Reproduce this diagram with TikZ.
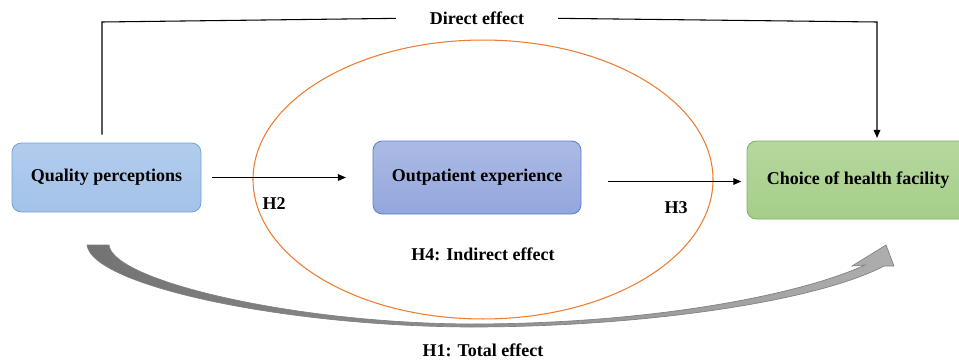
\documentclass[tikz,border=0pt]{standalone}
\usepackage{fontspec}
\setmainfont{Liberation Serif}
\usetikzlibrary{arrows.meta}
\definecolor{qpfill}{HTML}{A9C6EA}
\definecolor{qpedge}{HTML}{6FA3DE}
\definecolor{oefill}{HTML}{9DAEE0}
\definecolor{oeedge}{HTML}{5A7CCB}
\definecolor{chfill}{HTML}{A9D18E}
\definecolor{chedge}{HTML}{7DB35F}
\definecolor{ellorange}{HTML}{ED7D31}
\begin{document}
\begin{tikzpicture}[x=0.75pt,y=-0.75pt,
  box/.style={draw, rounded corners=7pt, line width=0.6pt, align=center,
    font=\bfseries\fontsize{13.5}{16}\selectfont},
  lbl/.style={font=\bfseries\fontsize{13.5}{16}\selectfont},
  link/.style={draw, line width=0.8pt, -{Triangle[length=6pt,width=5pt]}}]
\useasboundingbox (0,0) rectangle (959,360);
% orange ellipse round the mediator
\draw[ellorange, line width=0.8pt] (483,179.5) ellipse [x radius=172.5pt, y radius=104.6pt];
% boxes
\node[box, draw=qpedge, top color=qpfill!90!white, bottom color=qpfill!90!qpedge,
  minimum width=141.75pt, minimum height=51.75pt] (qp) at (106.5,177.5) {Quality perceptions};
\node[box, draw=oeedge, top color=oefill!85!white, bottom color=oefill!85!oeedge,
  minimum width=156pt, minimum height=54.75pt] (oe) at (477,177.5) {Outpatient experience};
\node[box, draw=chedge, top color=chfill!85!white, bottom color=chfill!90!chedge,
  minimum width=166.5pt, minimum height=58.5pt] (ch) at (858,180) {Choice of health facility};
% labels
\node[lbl] (h2) at (274,204) {H2};
\node[lbl] (h3) at (676,208) {H3};
\node[lbl] (h4) at (483,254) {H4: Indirect effect};
\node[lbl] (h1) at (483,350) {H1: Total effect};
\node[lbl] (de) at (477,18) {Direct effect};
\coordinate (dl) at (102,22);
\coordinate (dr) at (877,22);
% mediation paths
\path[link, shorten <=8pt, shorten >=20pt] (qp.east) -- (oe.west);
\path[link, shorten <=20pt, shorten >=4pt] ([yshift=-3pt]oe.east) -- ([yshift=-3pt]oe.east -| ch.west);
% direct effect
\draw[line width=0.8pt, shorten <=6pt, shorten >=22pt] (qp.north -| dl) -- (dl) -- (de.west);
\path[link, shorten <=22pt, shorten >=2pt] (de.east) -- (dr) -- (ch.north -| dr);
% total effect curved arrow
\draw[black!50, line width=0.5pt, left color=black!55, right color=black!32]
  (87,245) -- (109,245) .. controls (112,280) and (290,323) .. (470,324)
  .. controls (650,324) and (800,295) .. (865,265) -- (852,266) -- (886,245)
  -- (894,266) -- (884,266) .. controls (820,300) and (650,327) .. (470,327)
  .. controls (280,326) and (92,285) .. (87,245) -- cycle;
\end{tikzpicture}
\end{document}
